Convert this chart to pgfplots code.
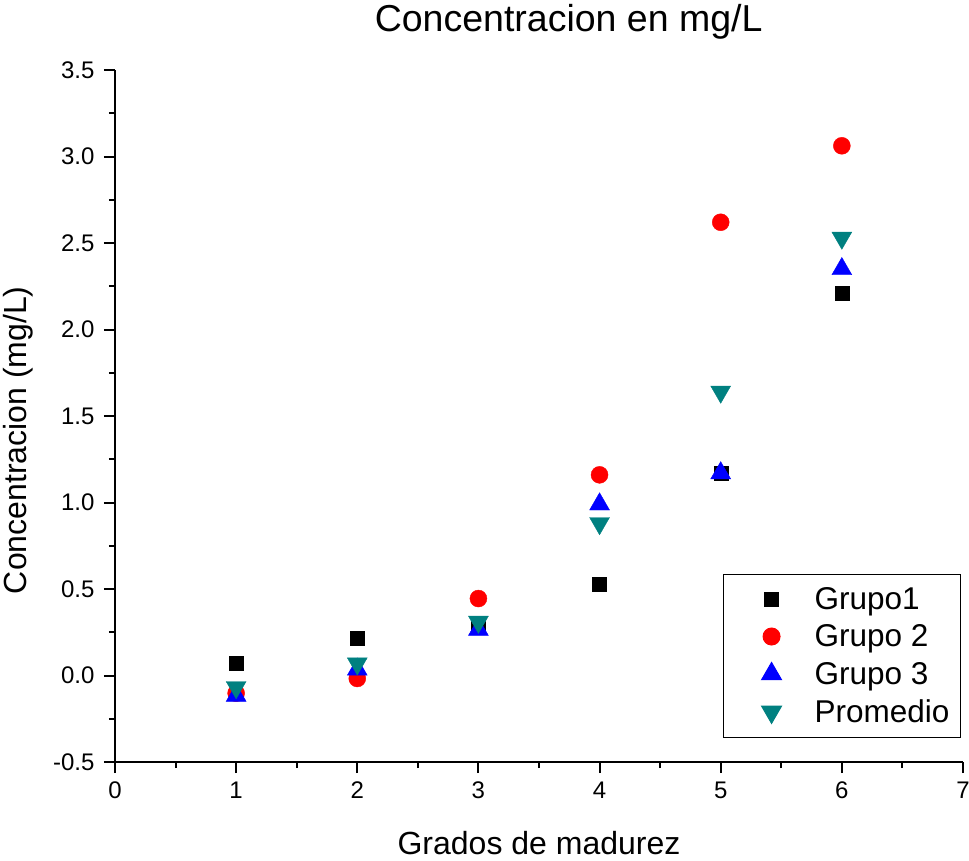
\documentclass[border=0pt]{standalone}
\usepackage{pgfplots}
\pgfplotsset{compat=1.18}
\usepackage{fontspec}
\setmainfont{Liberation Sans}
\definecolor{tealc}{RGB}{0,128,128}
\begin{document}
\begin{tikzpicture}
\begin{axis}[
  scale only axis, width=848bp, height=692bp,
  xmin=0, xmax=7, ymin=-0.5, ymax=3.5,
  axis lines*=left,
  axis line style={line width=2bp},
  every tick/.style={line width=2bp, black},
  tick align=outside,
  major tick length=11bp, minor tick length=6bp,
  xtick={0,1,2,3,4,5,6,7},
  ytick={-0.5,0,0.5,1,1.5,2,2.5,3,3.5},
  minor x tick num=1, minor y tick num=1,
  /pgf/number format/assume math mode=true,
  yticklabel style={/pgf/number format/fixed, /pgf/number format/fixed zerofill, /pgf/number format/precision=1},
  tick label style={font=\fontsize{24bp}{26bp}\selectfont},
  xticklabel style={yshift=-5bp},
  yticklabel style={xshift=-6bp},
  title={Concentracion en mg/L},
  title style={font=\fontsize{37.5bp}{40bp}\selectfont, at={(0.535,1)}, anchor=south, inner sep=0pt, yshift=25bp},
  xlabel={Grados de madurez},
  xlabel style={font=\fontsize{32bp}{34bp}\selectfont, at={(0.5,0)}, anchor=base, inner sep=0pt, yshift=-92bp},
  ylabel={Concentracion (mg/L)},
  ylabel style={font=\fontsize{32bp}{34bp}\selectfont, at={(-0.1038,0.465)}, anchor=base, inner sep=0pt},
  legend style={at={(0.9975,0.272)}, anchor=north east, draw=black, line width=1bp,
    font=\fontsize{31.5bp}{33bp}\selectfont, inner xsep=9bp, inner ysep=11bp,
    row sep=10bp, cells={anchor=west}},
  legend image code/.code={\path[draw=none,fill=none] (0bp,0bp) -- (50bp,0bp); \draw[#1] plot coordinates {(39bp,0bp)};},
]
\addplot[only marks, mark=square*, mark size=7bp, black, mark options={draw=none, fill=black}]
  coordinates {(1,0.069) (2,0.214) (3,0.29) (4,0.526) (5,1.17) (6,2.21)};
\addlegendentry{\hspace{30bp}Grupo1}
\addplot[only marks, mark=*, mark size=8.5bp, red, mark options={draw=none, fill=red}]
  coordinates {(1,-0.102) (2,-0.017) (3,0.445) (4,1.16) (5,2.62) (6,3.062)};
\addlegendentry{\hspace{30bp}Grupo 2}
\addplot[only marks, mark=triangle*, mark size=11.5bp, blue, mark options={draw=none, fill=blue}]
  coordinates {(1,-0.116) (2,0.035) (3,0.265) (4,0.99) (5,1.17) (6,2.35)};
\addlegendentry{\hspace{30bp}Grupo 3}
\addplot[only marks, mark=triangle*, mark size=11.5bp, tealc, mark options={draw=none, fill=tealc, rotate=180}]
  coordinates {(1,-0.068) (2,0.069) (3,0.31) (4,0.88) (5,1.64) (6,2.53)};
\addlegendentry{\hspace{30bp}Promedio}
\coordinate (bbsw) at (axis description cs:-0.1356,-0.1416);
\coordinate (bbne) at (axis description cs:1.0071,1.1012);
\end{axis}
\pgfresetboundingbox
\path (bbsw) rectangle (bbne);
\end{tikzpicture}
\end{document}
